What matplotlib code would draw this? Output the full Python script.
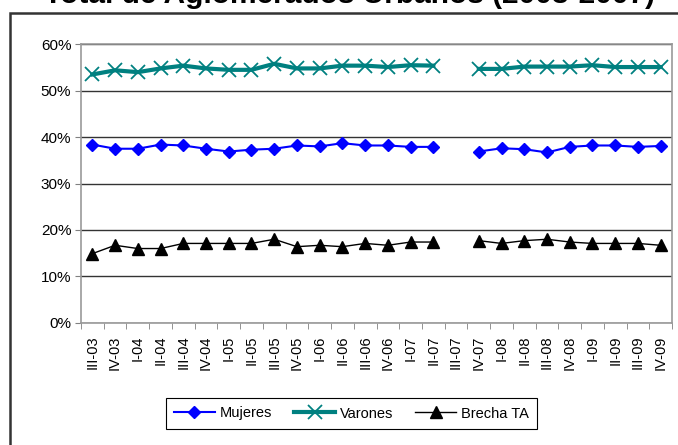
import numpy as np
import matplotlib.pyplot as plt
from matplotlib.patches import Rectangle

plt.rcParams['font.family'] = ['Liberation Sans', 'DejaVu Sans']

trimestres = ['III-03', 'IV-03', 'I-04', 'II-04', 'III-04', 'IV-04', 'I-05', 'II-05',
              'III-05', 'IV-05', 'I-06', 'II-06', 'III-06', 'IV-06', 'I-07', 'II-07',
              'III-07', 'IV-07', 'I-08', 'II-08', 'III-08', 'IV-08', 'I-09', 'II-09',
              'III-09', 'IV-09']

# tasas en %, sin dato para III-07
mujeres = [38.4, 37.5, 37.5, 38.4, 38.2, 37.5, 36.9, 37.3, 37.5, 38.2, 38.0, 38.7, 38.2,
           38.2, 37.9, 37.9, np.nan, 36.9, 37.6, 37.4, 36.7, 37.9, 38.2, 38.2, 37.9, 38.1]
varones = [53.5, 54.4, 54.0, 54.8, 55.4, 54.8, 54.5, 54.5, 55.8, 54.8, 54.8, 55.4, 55.4,
           55.1, 55.5, 55.4, np.nan, 54.7, 54.7, 55.2, 55.2, 55.2, 55.5, 55.1, 55.1, 55.1]
brecha = [14.9, 16.7, 16.0, 16.0, 17.1, 17.1, 17.1, 17.1, 18.0, 16.4, 16.7, 16.4, 17.1,
          16.7, 17.4, 17.4, np.nan, 17.7, 17.1, 17.7, 18.0, 17.4, 17.1, 17.1, 17.1, 16.7]

x = np.arange(len(trimestres))

fig = plt.figure(figsize=(6.78, 4.45), dpi=100)
ax = fig.add_axes([81 / 678, 1 - 322.8 / 445, 591 / 678, (322.8 - 44.3) / 445])

l1, = ax.plot(x, mujeres, color='#0000FF', lw=1.5, marker='D', ms=6.5, label='Mujeres')
l2, = ax.plot(x, varones, color='#008080', lw=3, marker='x', ms=10, mew=1.3, label='Varones')
l3, = ax.plot(x, brecha, color='black', lw=1, marker='^', ms=8, label='Brecha TA')

ax.set_xlim(-0.5, len(trimestres) - 0.5)
ax.set_ylim(0, 60)
ax.set_yticks(np.arange(0, 61, 10))
ax.set_yticklabels([f'{v}%' for v in range(0, 61, 10)])
ax.yaxis.grid(True, color='#333333', lw=1)
ax.set_axisbelow(True)

ax.set_xticks(x)
ax.set_xticklabels(trimestres, rotation=90)
ax.set_xticks(np.arange(-0.5, len(trimestres), 1), minor=True)
ax.tick_params(axis='x', which='major', length=0, pad=9, labelsize=10.5)
ax.tick_params(axis='x', which='minor', length=4, color='#808080')
ax.tick_params(axis='y', length=4, color='#808080', labelsize=11, pad=3)

for s in ['left', 'bottom', 'right', 'top']:
    ax.spines[s].set_color('#999999')
    ax.spines[s].set_linewidth(1.2)

leg = fig.legend(handles=[l1, l2, l3], loc='center', ncol=3,
                 bbox_to_anchor=(351.5 / 678, 1 - 413.5 / 445), fontsize=10.5,
                 frameon=True, fancybox=False, edgecolor='black', framealpha=1,
                 handlelength=2.8, columnspacing=1.5, handletextpad=0.35,
                 borderpad=0.55)
leg.get_frame().set_linewidth(0.8)

# marco exterior del gráfico
fig.patches.append(Rectangle((10 / 678, -0.1), 1.2, 1 - 13 / 445 + 0.1,
                             transform=fig.transFigure, fill=False,
                             edgecolor='#333333', lw=1.8))

fig.text(0.516, 1 - 3 / 445, 'Total de Aglomerados Urbanos (2003-2007)',
         ha='center', va='baseline', fontsize=21.5, fontweight='bold')

fig.savefig('out.png', dpi=100)
